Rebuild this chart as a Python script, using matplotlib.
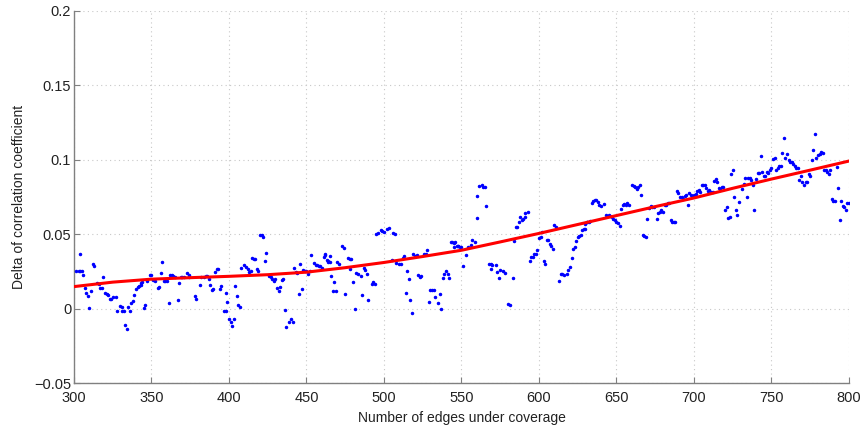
import numpy as np
import matplotlib
matplotlib.use("Agg")
import matplotlib.pyplot as plt

# scattered points (edges, delta)
edges = [301, 303, 304, 305, 304, 306, 307, 308, 309, 310, 311, 312, 313, 315, 316, 317, 318, 319,
         320, 321, 322, 323, 324, 325, 327, 328, 330, 331, 331, 332, 333, 334, 335, 336, 337, 338,
         339, 340, 341, 342, 343, 343, 344, 345, 346, 347, 349, 350, 351, 352, 354, 355, 356, 357,
         358, 359, 360, 361, 362, 363, 364, 365, 367, 368, 369, 370, 371, 373, 374, 374, 378, 379,
         381, 382, 384, 385, 386, 387, 388, 389, 390, 391, 392, 393, 394, 395, 397, 398, 398, 399,
         400, 401, 402, 403, 404, 405, 406, 407, 408, 410, 411, 412, 413, 414, 415, 416, 417, 418,
         419, 420, 421, 422, 423, 424, 426, 427, 428, 429, 430, 431, 432, 433, 434, 435, 436, 437,
         439, 440, 441, 442, 443, 444, 445, 446, 447, 448, 449, 450, 451, 452, 453, 455, 456, 457,
         458, 459, 460, 461, 462, 464, 465, 462, 463, 464, 465, 466, 467, 469, 468, 470, 471, 473,
         474, 475, 477, 478, 479, 478, 480, 481, 482, 483, 485, 486, 487, 488, 489, 490, 492, 493,
         494, 495, 496, 498, 499, 500, 502, 503, 505, 506, 507, 508, 510, 511, 512, 513, 514, 515,
         516, 517, 518, 519, 520, 521, 522, 523, 524, 526, 527, 528, 529, 530, 531, 532, 533, 535,
         536, 537, 538, 539, 540, 541, 542, 543, 544, 545, 545, 547, 548, 546, 548, 549, 550, 551,
         553, 554, 556, 557, 559, 560, 560, 561, 563, 564, 565, 566, 568, 569, 570, 572, 569, 573,
         574, 575, 577, 578, 580, 581, 583, 584, 585, 586, 587, 588, 589, 590, 591, 591, 593, 594,
         595, 596, 597, 598, 599, 600, 601, 602, 603, 604, 605, 606, 607, 608, 609, 610, 611, 613,
         614, 615, 616, 618, 619, 620, 621, 622, 623, 624, 625, 626, 627, 628, 629, 630, 631, 633,
         630, 631, 632, 634, 635, 636, 637, 638, 639, 640, 642, 643, 645, 646, 647, 648, 649, 650,
         651, 652, 653, 654, 655, 656, 657, 658, 660, 661, 662, 663, 664, 665, 666, 667, 668, 669,
         670, 671, 672, 673, 674, 676, 677, 678, 679, 680, 681, 682, 683, 684, 685, 686, 687, 688,
         689, 690, 691, 692, 693, 694, 695, 696, 697, 698, 699, 700, 701, 702, 703, 704, 705, 706,
         707, 708, 709, 710, 711, 712, 713, 714, 715, 716, 717, 718, 719, 720, 721, 722, 723, 724,
         725, 726, 727, 728, 729, 731, 732, 733, 734, 735, 736, 737, 738, 739, 740, 741, 742, 743,
         744, 745, 746, 747, 748, 749, 750, 751, 752, 753, 754, 755, 756, 757, 758, 759, 760, 761,
         762, 763, 764, 765, 766, 767, 768, 769, 770, 771, 772, 773, 774, 775, 776, 777, 778, 779,
         780, 781, 782, 783, 784, 785, 786, 787, 788, 789, 790, 791, 792, 793, 794, 795, 796, 797,
         798, 799, 800]
delta = [0.0256, 0.0256, 0.0365, 0.0256, 0.0256, 0.0226, 0.0141, 0.0103, 0.0083, 0.0004, 0.0117, 0.0298, 0.0287, 0.0170, 0.0166, 0.0141, 0.0140, 0.0215,
         0.0103, 0.0099, 0.0094, 0.0063, 0.0067, 0.0076, 0.0076, -0.0018, 0.0018, 0.0009, -0.0018, -0.0018, -0.0108, -0.0139, 0.0009, -0.0018, 0.0040, 0.0049,
         0.0090, 0.0135, 0.0143, 0.0152, 0.0161, 0.0175, 0.0182, 0.0004, 0.0025, 0.0188, 0.0224, 0.0224, 0.0193, 0.0186, 0.0137, 0.0148, 0.0242, 0.0310,
         0.0186, 0.0186, 0.0188, 0.0040, 0.0224, 0.0224, 0.0220, 0.0210, 0.0058, 0.0175, 0.0210, 0.0210, 0.0210, 0.0238, 0.0226, 0.0215, 0.0085, 0.0067,
         0.0161, 0.0215, 0.0215, 0.0220, 0.0220, 0.0197, 0.0157, 0.0126, 0.0135, 0.0247, 0.0269, 0.0265, 0.0135, 0.0152, -0.0013, -0.0013, 0.0108, 0.0047,
         -0.0067, -0.0090, -0.0117, -0.0067, 0.0152, 0.0085, 0.0022, 0.0013, 0.0274, 0.0296, 0.0283, 0.0269, 0.0247, 0.0251, 0.0341, 0.0336, 0.0336, 0.0265,
         0.0256, 0.0493, 0.0493, 0.0480, 0.0318, 0.0372, 0.0220, 0.0211, 0.0197, 0.0184, 0.0202, 0.0139, 0.0117, 0.0148, 0.0193, 0.0202, -0.0009, -0.0126,
         -0.0090, -0.0067, -0.0090, 0.0274, 0.0247, 0.0242, 0.0099, 0.0300, 0.0130, 0.0260, 0.0256, 0.0256, 0.0233, 0.0251, 0.0363, 0.0305, 0.0296, 0.0291,
         0.0287, 0.0287, 0.0274, 0.0345, 0.0363, 0.0318, 0.0314, 0.0365, 0.0329, 0.0316, 0.0356, 0.0217, 0.0119, 0.0119, 0.0177, 0.0311, 0.0298, 0.0419,
         0.0410, 0.0096, 0.0338, 0.0334, 0.0334, 0.0266, 0.0177, -0.0002, 0.0240, 0.0235, 0.0217, 0.0092, 0.0271, 0.0262, 0.0235, 0.0056, 0.0168, 0.0181,
         0.0168, 0.0504, 0.0508, 0.0526, 0.0522, 0.0513, 0.0535, 0.0544, 0.0325, 0.0508, 0.0504, 0.0307, 0.0302, 0.0298, 0.0343, 0.0356, 0.0105, 0.0253,
         0.0199, 0.0056, -0.0029, 0.0365, 0.0356, 0.0361, 0.0226, 0.0213, 0.0217, 0.0365, 0.0365, 0.0392, 0.0043, 0.0128, 0.0123, 0.0123, 0.0078, 0.0038,
         0.0096, -0.0002, 0.0204, 0.0231, 0.0253, 0.0235, 0.0204, 0.0446, 0.0446, 0.0414, 0.0441, 0.0419, 0.0419, 0.0447, 0.0421, 0.0416, 0.0412, 0.0286,
         0.0358, 0.0416, 0.0425, 0.0461, 0.0447, 0.0609, 0.0756, 0.0823, 0.0828, 0.0819, 0.0814, 0.0689, 0.0300, 0.0300, 0.0295, 0.0291, 0.0268, 0.0246,
         0.0206, 0.0260, 0.0251, 0.0242, 0.0031, 0.0027, 0.0206, 0.0456, 0.0546, 0.0550, 0.0582, 0.0613, 0.0595, 0.0604, 0.0613, 0.0640, 0.0649, 0.0318,
         0.0345, 0.0345, 0.0367, 0.0367, 0.0394, 0.0474, 0.0479, 0.0515, 0.0322, 0.0300, 0.0461, 0.0461, 0.0434, 0.0421, 0.0403, 0.0559, 0.0550, 0.0183,
         0.0233, 0.0233, 0.0228, 0.0233, 0.0260, 0.0282, 0.0340, 0.0403, 0.0416, 0.0452, 0.0483, 0.0488, 0.0492, 0.0528, 0.0532, 0.0532, 0.0582, 0.0591,
         0.0567, 0.0581, 0.0581, 0.0711, 0.0720, 0.0729, 0.0729, 0.0715, 0.0697, 0.0688, 0.0702, 0.0626, 0.0626, 0.0621, 0.0617, 0.0603, 0.0594, 0.0585,
         0.0572, 0.0554, 0.0670, 0.0693, 0.0702, 0.0693, 0.0706, 0.0693, 0.0832, 0.0823, 0.0814, 0.0805, 0.0818, 0.0832, 0.0765, 0.0496, 0.0487, 0.0478,
         0.0599, 0.0679, 0.0688, 0.0684, 0.0684, 0.0603, 0.0639, 0.0652, 0.0661, 0.0648, 0.0693, 0.0693, 0.0706, 0.0706, 0.0594, 0.0585, 0.0581, 0.0581,
         0.0792, 0.0774, 0.0747, 0.0747, 0.0738, 0.0756, 0.0760, 0.0697, 0.0774, 0.0765, 0.0756, 0.0760, 0.0770, 0.0787, 0.0796, 0.0783, 0.0827, 0.0827,
         0.0827, 0.0809, 0.0787, 0.0796, 0.0783, 0.0783, 0.0857, 0.0870, 0.0852, 0.0812, 0.0803, 0.0816, 0.0816, 0.0664, 0.0682, 0.0610, 0.0614, 0.0906,
         0.0928, 0.0749, 0.0664, 0.0628, 0.0713, 0.0803, 0.0834, 0.0874, 0.0749, 0.0879, 0.0874, 0.0861, 0.0830, 0.0664, 0.0870, 0.0910, 0.0910, 0.1022,
         0.0915, 0.0892, 0.0888, 0.0915, 0.0910, 0.0928, 0.0946, 0.1004, 0.1009, 0.0933, 0.0946, 0.0955, 0.0955, 0.1045, 0.1143, 0.1009, 0.1036, 0.0996,
         0.0987, 0.0987, 0.0973, 0.0955, 0.0946, 0.0946, 0.0865, 0.0888, 0.0852, 0.0830, 0.0848, 0.0848, 0.0906, 0.0892, 0.0996, 0.1063, 0.1170, 0.1009,
         0.1031, 0.1036, 0.1049, 0.1045, 0.0933, 0.0928, 0.0919, 0.0906, 0.0933, 0.0735, 0.0726, 0.0726, 0.0951, 0.0807, 0.0592, 0.0726, 0.0691, 0.0682,
         0.0664, 0.0709, 0.0709]

# fitted trend, read every 25 edges
fit_edges = [300, 325, 350, 375, 400, 425, 450, 475, 500, 525, 550,
             575, 600, 625, 650, 675, 700, 725, 750, 775, 800]
fit_delta = [0.0148, 0.0178, 0.0198, 0.0208, 0.0217, 0.0228, 0.0245, 0.0275, 0.0310, 0.0350, 0.0392,
             0.0448, 0.0505, 0.0565, 0.0625, 0.0685, 0.0743, 0.0808, 0.0870, 0.0930, 0.0991]

xticks = list(range(300, 801, 50))
yticks = [-0.05, 0, 0.05, 0.1, 0.15, 0.2]
ytick_labels = ["\u22120.05", "0", "0.05", "0.1", "0.15", "0.2"]

plt.rcParams['font.family'] = ['Liberation Sans', 'DejaVu Sans']

fig = plt.figure(figsize=(8.64, 4.30), dpi=100)
ax = fig.add_axes([0.0856, 0.109, 0.897, 0.866])

n = min(len(edges), len(delta))
ax.plot(edges[:n], delta[:n], '.', color='#0000ff', markersize=3.0, zorder=3)
ax.plot(fit_edges, fit_delta, '-', color='#ff0000', linewidth=2.2, zorder=4)

ax.set_xlim(300, 800)
ax.set_ylim(-0.05, 0.2)
ax.set_xticks(xticks)
ax.set_yticks(yticks)
ax.set_yticklabels(ytick_labels)

ax.grid(True, linestyle=(0, (1, 3)), color='#c8c8c8', linewidth=0.8)
ax.set_axisbelow(True)

for s in ['top', 'right']:
    ax.spines[s].set_visible(False)
for s in ['left', 'bottom']:
    ax.spines[s].set_color('#808080')
    ax.spines[s].set_linewidth(1.0)

ax.tick_params(direction='in', length=4, color='#808080', labelsize=10.5,
               labelcolor='#222222')
ax.tick_params(axis='y', pad=2)
ax.tick_params(axis='x', pad=6)

ax.set_xlabel('Number of edges under coverage', fontsize=10, color='#222222', labelpad=4)
ax.set_ylabel('Delta of correlation coefficient', fontsize=10, color='#222222', labelpad=6)

fig.savefig('out.png', dpi=100)
